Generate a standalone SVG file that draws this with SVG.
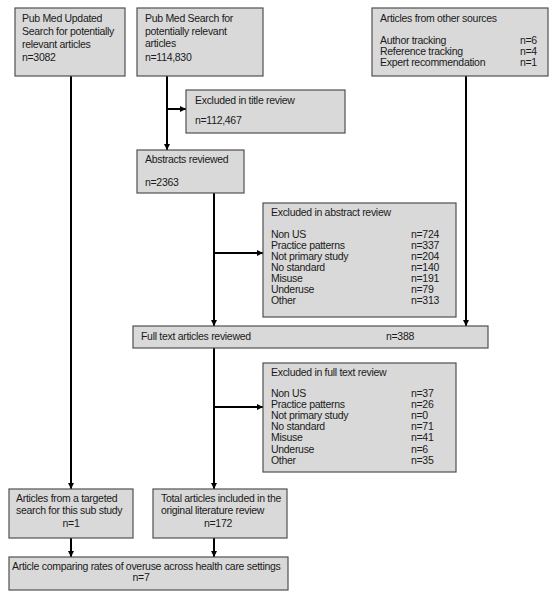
<svg xmlns="http://www.w3.org/2000/svg" width="555" height="600" viewBox="0 0 555 600">
<defs>
<marker id="ah" viewBox="0 0 10 10" refX="10" refY="5" markerWidth="3.2" markerHeight="3.2" orient="auto" markerUnits="strokeWidth">
<path d="M0,0 L10,5 L0,10 z" fill="#000"/>
</marker>
</defs>
<style>
.box{fill:#d9d9d9;stroke:#505050;stroke-width:1.2}
text{font-family:"Liberation Sans",Arial,sans-serif;font-size:10.5px;fill:#1a1a1a;letter-spacing:-0.3px}
.c{text-anchor:middle}
.ln{stroke:#000;stroke-width:2;fill:none}
.ar{stroke:#000;stroke-width:2;fill:none;marker-end:url(#ah)}
</style>
<rect width="555" height="600" fill="#fff"/>
<g id="connectors">
<path class="ar" d="M71,76 V489"/>
<path class="ar" d="M167,76 V150"/>
<path class="ar" d="M167,109 H186"/>
<path class="ar" d="M214,193 V326"/>
<path class="ar" d="M214,253 H263"/>
<path class="ar" d="M466,76 V326"/>
<path class="ar" d="M214,348 V489"/>
<path class="ar" d="M214,407 H263"/>
<path class="ar" d="M71,538 V557"/>
<path class="ar" d="M214,538 V557"/>
</g>
<g id="n-updated">
<rect class="box" x="15" y="8" width="110" height="68"/>
<text x="22" y="22">Pub Med Updated</text>
<text x="22" y="35">Search for potentially</text>
<text x="22" y="47.5">relevant articles</text>
<text x="22" y="60.5">n=3082</text>
</g>
<g id="n-search">
<rect class="box" x="137" y="8" width="126" height="68"/>
<text x="145" y="22">Pub Med Search for</text>
<text x="145" y="35">potentially relevant</text>
<text x="145" y="47">articles</text>
<text x="145" y="60.5">n=114,830</text>
</g>
<g id="n-other">
<rect class="box" x="372" y="8" width="176" height="68"/>
<text x="380" y="21.5">Articles from other sources</text>
<text x="380" y="43.5">Author tracking</text>
<text x="520" y="43.5">n=6</text>
<text x="380" y="54.5">Reference tracking</text>
<text x="520" y="54.5">n=4</text>
<text x="380" y="65.5">Expert recommendation</text>
<text x="520" y="65.5">n=1</text>
</g>
<g id="n-title-excl">
<rect class="box" x="186" y="90" width="159" height="43"/>
<text x="195" y="103.5">Excluded in title review</text>
<text x="195" y="123.5">n=112,467</text>
</g>
<g id="n-abstracts">
<rect class="box" x="137" y="150" width="107" height="43"/>
<text x="145" y="162.5">Abstracts reviewed</text>
<text x="145" y="185.5">n=2363</text>
</g>
<g id="n-abs-excl">
<rect class="box" x="263" y="203" width="193" height="114"/>
<text x="271" y="215.5">Excluded in abstract review</text>
<text x="271" y="237.5">Non US</text><text x="411" y="237.5">n=724</text>
<text x="271" y="248.5">Practice patterns</text><text x="411" y="248.5">n=337</text>
<text x="271" y="259.5">Not primary study</text><text x="411" y="259.5">n=204</text>
<text x="271" y="270.5">No standard</text><text x="411" y="270.5">n=140</text>
<text x="271" y="281.5">Misuse</text><text x="411" y="281.5">n=191</text>
<text x="271" y="292.5">Underuse</text><text x="411" y="292.5">n=79</text>
<text x="271" y="303.5">Other</text><text x="411" y="303.5">n=313</text>
</g>
<g id="n-fulltext">
<rect class="box" x="133" y="326" width="355" height="22"/>
<text x="141" y="340">Full text articles reviewed</text>
<text x="386" y="340">n=388</text>
</g>
<g id="n-ft-excl">
<rect class="box" x="263" y="363" width="193" height="109"/>
<text x="271" y="375.5">Excluded in full text review</text>
<text x="271" y="396.5">Non US</text><text x="411" y="396.5">n=37</text>
<text x="271" y="407.7">Practice patterns</text><text x="411" y="407.7">n=26</text>
<text x="271" y="418.9">Not primary study</text><text x="411" y="418.9">n=0</text>
<text x="271" y="430.1">No standard</text><text x="411" y="430.1">n=71</text>
<text x="271" y="441.3">Misuse</text><text x="411" y="441.3">n=41</text>
<text x="271" y="452.5">Underuse</text><text x="411" y="452.5">n=6</text>
<text x="271" y="463.7">Other</text><text x="411" y="463.7">n=35</text>
</g>
<g id="n-targeted">
<rect class="box" x="9" y="489" width="124" height="49"/>
<text x="16" y="501.5">Articles from a targeted</text>
<text x="16" y="514">search for this sub study</text>
<text class="c" x="71" y="526.5">n=1</text>
</g>
<g id="n-total">
<rect class="box" x="153" y="489" width="134" height="49"/>
<text x="161" y="501.5">Total articles included in the</text>
<text x="161" y="514">original literature review</text>
<text class="c" x="218" y="526.5">n=172</text>
</g>
<g id="n-final">
<rect class="box" x="9" y="557" width="279" height="33"/>
<text x="12" y="569.5">Article comparing rates of overuse across health care settings</text>
<text class="c" x="141" y="581">n=7</text>
</g>
</svg>
